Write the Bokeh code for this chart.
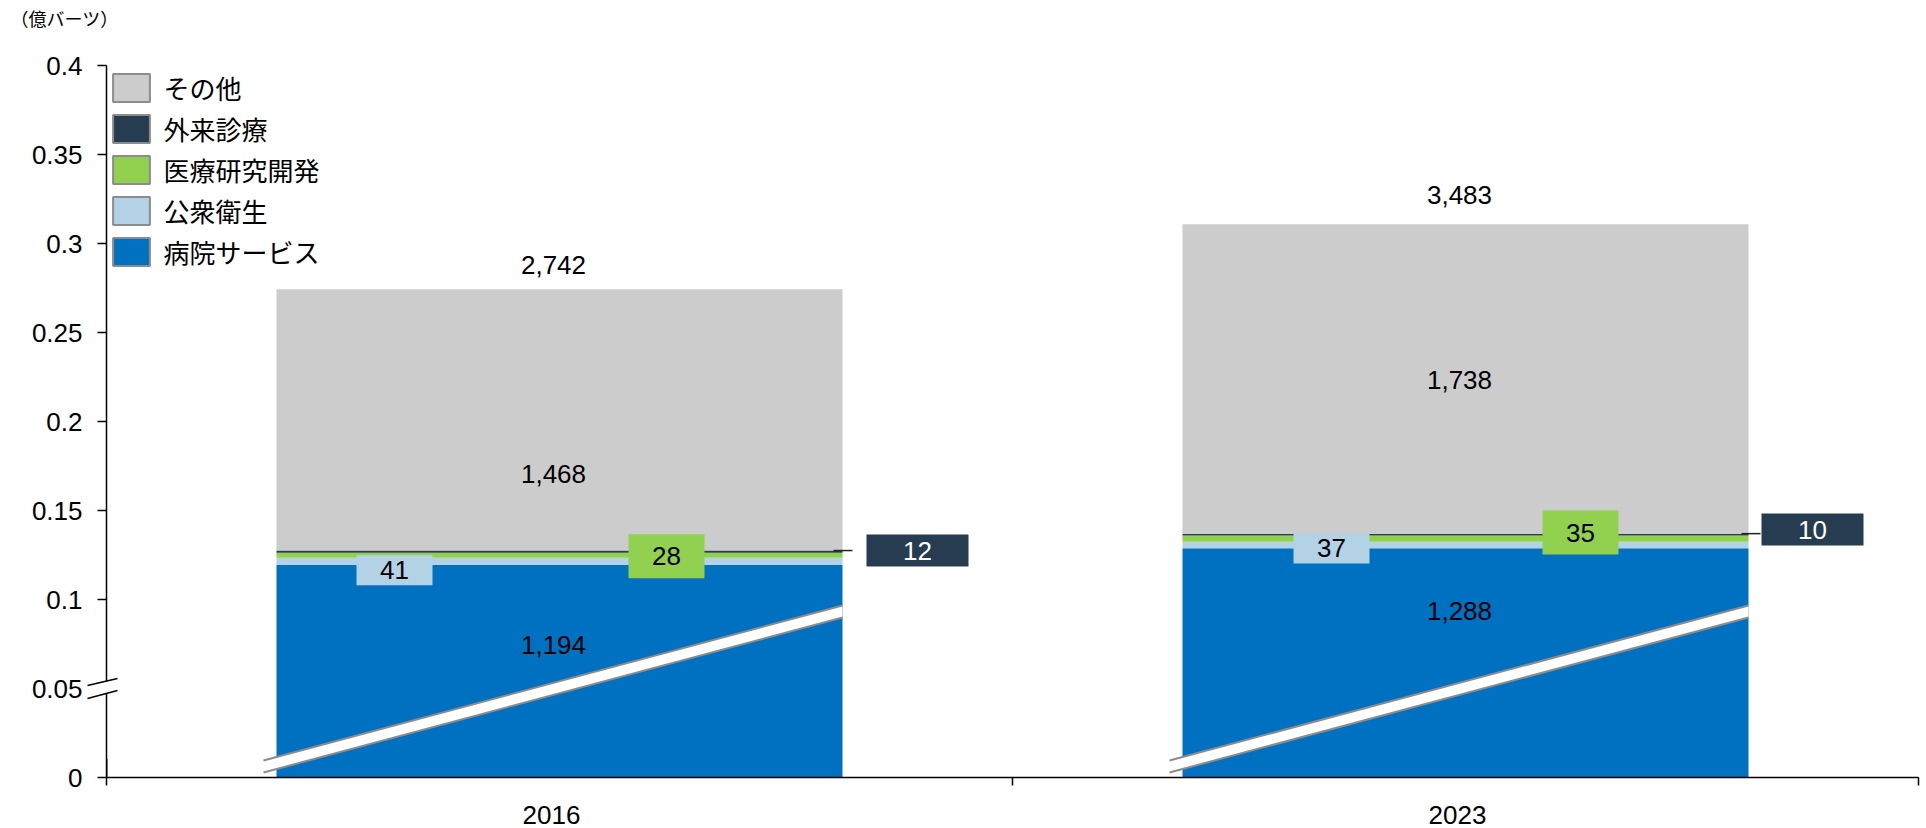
import numpy as np
from bokeh.plotting import figure
from bokeh.models import (ColumnDataSource, Range1d, FixedTicker, CustomJSTickFormatter,
                          Legend, LegendItem)
from bokeh.core.properties import value
from bokeh.embed import file_html
from bokeh.resources import INLINE

# ---------------- data ----------------
years = ["2016", "2023"]
series = ["病院サービス", "公衆衛生", "医療研究開発", "外来診療", "その他"]
hospital_services = [1194, 1288]
public_health = [41, 37]
medical_rnd = [28, 35]
outpatient = [12, 10]
other = [1468, 1738]
totals = [2742, 3483]
y_ticks = [0, 0.05, 0.1, 0.15, 0.2, 0.25, 0.3, 0.35, 0.4]
unit_label = "（億バーツ）"
AXIS_SCALE = 10000  # bar heights on the axis are value / 10000

# ---------------- style ----------------
colors = ["#0070C0", "#B4D2E6", "#92D050", "#263C50", "#CCCCCC"]
FONT = "Liberation Sans"
JP_FONT = "Noto Sans CJK JP"
W, H = 1926, 828
ML, MR, MT, MB = 106, 8, 65, 51
FW, FH = W - ML - MR, H - MT - MB
Y_MAX = 0.4
X_MAX = len(years)
PX_X = FW / X_MAX
PX_Y = FH / Y_MAX
BAR_W = 566 / PX_X

# label placement (pixel offsets, style only)
big_dy = {0: [26, 52], 4: [-54, -1.5]}        # inner big labels, from segment middle (up = +)
total_dy = [24, 29]                            # above bar top
text_dx = -6
axis_label_dx = -8
box_spec = {  # series index: (dx per year, dy per year, box w, box h, text colour)
    1: ([-165, -134], [-9, -3.5], 76, 30, "black"),
    2: ([107, 115], [-1, 6], 76, 44, "black"),
    3: ([358, 347], [1, 5], 102, 32, "white"),
}
leader = ([-9, -7], [10, 12])  # from bar right edge, px

# ---------------- derived positions ----------------
xc = np.arange(len(years)) + 0.5
stack = np.array([hospital_services, public_health, medical_rnd, outpatient, other], dtype=float) / AXIS_SCALE
tops = np.cumsum(stack, axis=0)
bottoms = tops - stack
mids = bottoms + stack / 2
keys = ["s%d" % i for i in range(len(series))]

src = ColumnDataSource(dict(x=xc, **{k: stack[i] for i, k in enumerate(keys)}))

p = figure(width=W, height=H, x_range=Range1d(0, X_MAX), y_range=Range1d(0, Y_MAX),
           output_backend="svg", toolbar_location=None,
           min_border_left=ML, min_border_right=MR, min_border_top=MT, min_border_bottom=MB,
           outline_line_color=None, background_fill_color="white", border_fill_color="white")
p.xgrid.visible = False
p.ygrid.visible = False

# axes
xa = p.xaxis[0]
xa.ticker = FixedTicker(ticks=list(xc + axis_label_dx / PX_X),
                        minor_ticks=list(range(len(years) + 1)))
xa.formatter = CustomJSTickFormatter(args=dict(labels=years),
                                     code="const i = Math.floor(tick); return (i >= 0 && i < labels.length) ? labels[i] : '';")
xa.major_tick_line_color = None
xa.major_tick_out = 0
xa.major_tick_in = 0
xa.minor_tick_out = 8
xa.minor_tick_in = 0
xa.minor_tick_line_color = "black"
xa.minor_tick_line_width = 1.5
xa.axis_line_color = "black"
xa.axis_line_width = 1.5
xa.major_label_text_font = FONT
xa.major_label_text_font_size = "26px"
xa.major_label_text_color = "black"
xa.major_label_standoff = 20

ya = p.yaxis[0]
ya.ticker = FixedTicker(ticks=y_ticks)
ya.formatter = CustomJSTickFormatter(code="return String(Math.round(tick * 100) / 100);")
ya.major_tick_out = 9
ya.major_tick_in = 0
ya.minor_tick_line_color = None
ya.major_tick_line_color = "black"
ya.major_tick_line_width = 1.5
ya.axis_line_color = "black"
ya.axis_line_width = 1.5
ya.major_label_text_font = FONT
ya.major_label_text_font_size = "26px"
ya.major_label_text_color = "black"
ya.major_label_standoff = 15

# stacked bars
p.vbar_stack(keys, x="x", width=BAR_W, source=src, fill_color=colors, line_color=None)

# diagonal break band across the hospital-services segment
band_xs, band_ys, edge_xs, edge_ys = [], [], [], []
for c in xc:
    x0 = c - BAR_W / 2 - 13 / PX_X
    x1 = c + BAR_W / 2
    y0 = 11 / PX_Y
    y1 = 166 / PX_Y
    h = 6 / PX_Y
    band_xs.append([x0, x1, x1, x0])
    band_ys.append([y0 - h, y1 - h, y1 + h, y0 + h])
    edge_xs += [[x0, x1], [x0, x1]]
    edge_ys += [[y0 - h, y1 - h], [y0 + h, y1 + h]]
p.patches(band_xs, band_ys, fill_color="white", line_color=None)
p.multi_line(edge_xs, edge_ys, line_color="#8C8C8C", line_width=2)

# leader lines for 外来診療
lx0 = [xc[i] + BAR_W / 2 + leader[0][i] / PX_X for i in range(len(years))]
lx1 = [xc[i] + BAR_W / 2 + leader[1][i] / PX_X for i in range(len(years))]
p.segment(x0=lx0, y0=list(tops[3]), x1=lx1, y1=list(tops[3]), line_color="#222222", line_width=1.5)

# boxed labels for the thin segments
for s, (dxs, dys, bw, bh, tc) in box_spec.items():
    bx = [xc[i] + dxs[i] / PX_X for i in range(len(years))]
    by = [mids[s][i] + dys[i] / PX_Y for i in range(len(years))]
    p.rect(x=bx, y=by, width=bw, height=bh, width_units="screen", height_units="screen",
           fill_color=colors[s], line_color=None)
    p.text(x=bx, y=by, text=[f"{int(round(v * AXIS_SCALE)):,}" for v in stack[s]],
           text_font=value(FONT), text_font_size="26px", text_color=tc,
           text_align="center", text_baseline="middle")

# big inner labels
for s, dys in big_dy.items():
    p.text(x=list(xc + text_dx / PX_X), y=[mids[s][i] + dys[i] / PX_Y for i in range(len(years))],
           text=[f"{int(round(v * AXIS_SCALE)):,}" for v in stack[s]],
           text_font=value(FONT), text_font_size="26px", text_color="black",
           text_align="center", text_baseline="middle")

# totals
p.text(x=list(xc + text_dx / PX_X), y=[tops[-1][i] + total_dy[i] / PX_Y for i in range(len(years))],
       text=[f"{t:,}" for t in totals], text_font=value(FONT), text_font_size="26px",
       text_color="black", text_align="center", text_baseline="middle")

# y-axis break mark at 0.05
bx = [-19 / PX_X, 11 / PX_X]
up = [0.05 + 3 / PX_Y, 0.05 + 10 / PX_Y]
lo = [0.05 - 10 / PX_Y, 0.05 - 2 / PX_Y]
p.patch([bx[0], bx[1], bx[1], bx[0]], [lo[0], lo[1], up[1], up[0]],
        fill_color="white", line_color=None, level="overlay")
p.multi_line([bx, bx], [up, lo], line_color="black", line_width=1.5, level="overlay")

# unit label (top-left, outside the frame)
p.text(x=[-96 / PX_X], y=[Y_MAX + 48 / PX_Y], text=[unit_label], text_font=value(JP_FONT),
       text_font_size="18px", text_color="black", text_align="left", text_baseline="middle",
       level="overlay")

# legend (off-range one-row renderers carry the swatch style)
items = []
for s in reversed(range(len(series))):
    r = p.vbar(x=[-5], top=[0.01], width=0.1, fill_color=colors[s], line_color="#8C8C8C", line_width=2)
    items.append(LegendItem(label=series[s], renderers=[r]))
ITEM_H, SPACING = 37.6, 4
LEG_H = 5 * ITEM_H + 4 * SPACING
legend = Legend(items=items, location=(2.4, FH - LEG_H - 0.5), orientation="vertical",
                glyph_width=46, glyph_height=35, label_height=28, label_standoff=9,
                spacing=SPACING, padding=0, margin=0, border_line_color=None,
                background_fill_alpha=0, label_text_font=JP_FONT,
                label_text_font_size="26px", label_text_color="black")
p.add_layout(legend)

open("out.html", "w").write(file_html(p, INLINE))
